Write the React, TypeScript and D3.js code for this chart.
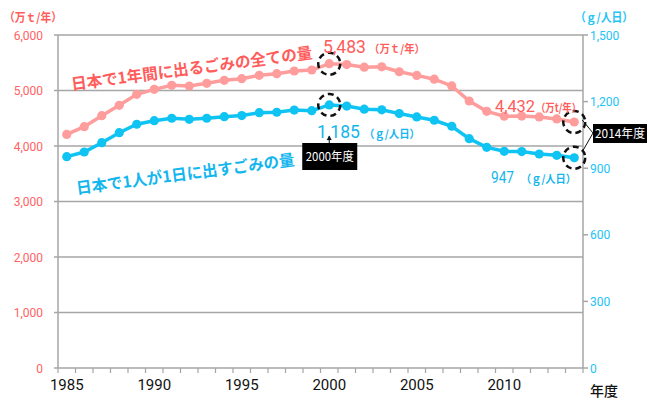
import React from "react";
import * as d3 from "d3";

const years: number[] = d3.range(1985, 2015);
const totalWaste: number[] = [
  4209, 4348, 4546, 4733, 4931, 5021, 5093, 5081, 5129, 5183,
  5213, 5273, 5303, 5351, 5369, 5483, 5468, 5420, 5427, 5338,
  5272, 5204, 5082, 4811, 4625, 4536, 4539, 4523, 4487, 4432,
];
const perPerson: number[] = [
  952, 973, 1015, 1060, 1098, 1114, 1125, 1120, 1125, 1132,
  1137, 1150, 1152, 1162, 1159, 1185, 1180, 1166, 1163, 1146,
  1131, 1116, 1089, 1033, 994, 976, 975, 964, 958, 947,
];
const leftTicks: number[] = [0, 1000, 2000, 3000, 4000, 5000, 6000];
const rightTicks: number[] = [0, 300, 600, 900, 1200, 1500];
const xLabelYears: number[] = [1985, 1990, 1995, 2000, 2005, 2010];
const highlightYears: number[] = [2000, 2014];

const PINK_LINE = "#ff9c9c";
const PINK_TEXT = "#ff5c5c";
const BLUE_LINE = "#0fc3f3";
const BLUE_TEXT = "#14b6ee";
const GRID = "#a6a6a6";
const JP = "'Noto Sans CJK JP', 'Noto Sans', sans-serif";
const NUM = "'Liberation Sans Narrow', 'Roboto', 'Noto Sans', sans-serif";

export default function App() {
  const W = 650, H = 404;
  const left = 58, right = 583, top = 35, bottom = 368;
  const x = d3.scaleBand<number>().domain(years).range([left, right]).padding(0);
  const cx = (yr: number) => (x(yr) as number) + x.bandwidth() / 2;
  const yL = d3.scaleLinear().domain([0, 6000]).range([bottom, top]);
  const yR = d3.scaleLinear().domain([0, 1500]).range([bottom, top]);

  const pinkPath = d3.line<number>().x((_, i) => cx(years[i])).y((d) => yL(d))(totalWaste) || "";
  const bluePath = d3.line<number>().x((_, i) => cx(years[i])).y((d) => yR(d))(perPerson) || "";

  const fmt = d3.format(",");
  const iA = years.indexOf(highlightYears[0]);
  const iB = years.indexOf(highlightYears[1]);
  const pA = { x: cx(years[iA]), y: yL(totalWaste[iA]) };
  const bA = { x: cx(years[iA]), y: yR(perPerson[iA]) };
  const pB = { x: cx(years[iB]), y: yL(totalWaste[iB]) };
  const bB = { x: cx(years[iB]), y: yR(perPerson[iB]) };

  const boundaries = d3.range(years.length + 1).map((i) => left + i * x.bandwidth());

  return (
    <svg width={W} height={H} style={{ position: "absolute", left: 0, top: 0, background: "#fff" }}>
      {/* gridlines */}
      {leftTicks.map((t) => (
        <line key={"g" + t} x1={left - 4} x2={right} y1={yL(t)} y2={yL(t)} stroke={GRID} strokeWidth={1.5} />
      ))}
      {/* axes */}
      <line x1={left} x2={left} y1={top} y2={bottom} stroke={GRID} strokeWidth={1.5} />
      <line x1={right} x2={right} y1={top} y2={bottom} stroke={GRID} strokeWidth={1.5} />
      {rightTicks.map((t) => (
        <line key={"rt" + t} x1={right} x2={right + 5} y1={yR(t)} y2={yR(t)} stroke={GRID} strokeWidth={1.5} />
      ))}
      {boundaries.map((b, i) => (
        <line key={"xt" + i} x1={b} x2={b} y1={bottom} y2={bottom + 5} stroke={GRID} strokeWidth={1.2} />
      ))}

      {/* left tick labels */}
      {leftTicks.map((t) => (
        <text key={"lt" + t} x={43} y={yL(t) + 4.5} textAnchor="end" fontFamily={NUM} fontSize={12}
          fill="#ff6262">{fmt(t)}</text>
      ))}
      {/* right tick labels */}
      {rightTicks.map((t) => (
        <text key={"rl" + t} x={590} y={yR(t) + 4.5} textAnchor="start" fontFamily={NUM} fontSize={12}
          fill="#22c3f5">{fmt(t)}</text>
      ))}
      {/* x labels */}
      {xLabelYears.map((yr) => (
        <text key={"xl" + yr} x={cx(yr)} y={390} textAnchor="middle" fontFamily={NUM} fontSize={15}
          fill="#111">{yr}</text>
      ))}
      <text x={590} y={396} fontFamily={JP} fontSize={14} fontWeight={500} fill="#111">年度</text>

      {/* axis unit labels */}
      <text x={4} y={22} fontFamily={JP} fontSize={12} fontWeight={700} fill={PINK_TEXT}
        textLength={58} lengthAdjust="spacingAndGlyphs">（万ｔ/年）</text>
      <text x={575} y={22} fontFamily={JP} fontSize={12} fontWeight={700} fill="#22c3f5"
        textLength={58} lengthAdjust="spacingAndGlyphs">（ｇ/人日）</text>

      {/* series lines */}
      <path d={pinkPath} fill="none" stroke={PINK_LINE} strokeWidth={3.5} />
      {totalWaste.map((v, i) => (
        <circle key={"pc" + i} cx={cx(years[i])} cy={yL(v)} r={4.6} fill={PINK_LINE} />
      ))}
      <path d={bluePath} fill="none" stroke={BLUE_LINE} strokeWidth={3.5} />
      {perPerson.map((v, i) => (
        <circle key={"bc" + i} cx={cx(years[i])} cy={yR(v)} r={4.6} fill={BLUE_LINE} />
      ))}

      {/* series titles */}
      <text transform="translate(72,90) rotate(-7.5)" fontFamily={JP} fontSize={16} fontWeight={700}
        fill={PINK_TEXT} textLength={243} lengthAdjust="spacingAndGlyphs">日本で1年間に出るごみの全ての量</text>
      <text transform="translate(77,194) rotate(-7.5)" fontFamily={JP} fontSize={16} fontWeight={700}
        fill={BLUE_TEXT} textLength={220} lengthAdjust="spacingAndGlyphs">日本で1人が1日に出すごみの量</text>

      {/* dashed circles */}
      {[pA, bA, pB, bB].map((p, i) => (
        <circle key={"dc" + i} cx={p.x} cy={p.y} r={11} fill="none" stroke="#111" strokeWidth={2.5}
          strokeDasharray="6 4" />
      ))}

      {/* value annotations */}
      <text x={323} y={53} fontFamily={NUM} fontSize={18} fill={PINK_TEXT} textLength={43}
        lengthAdjust="spacingAndGlyphs">{fmt(totalWaste[iA])}</text>
      <text x={369} y={53} fontFamily={JP} fontSize={11} fontWeight={700} fill={PINK_TEXT} textLength={56}
        lengthAdjust="spacingAndGlyphs">（万ｔ/年）</text>

      <text x={317} y={138} fontFamily={NUM} fontSize={18} fill={BLUE_TEXT} textLength={43}
        lengthAdjust="spacingAndGlyphs">{fmt(perPerson[iA])}</text>
      <text x={364} y={138} fontFamily={JP} fontSize={11} fontWeight={700} fill={BLUE_TEXT} textLength={56}
        lengthAdjust="spacingAndGlyphs">（ｇ/人日）</text>

      <text x={495} y={112} fontFamily={NUM} fontSize={17} fill={PINK_TEXT} textLength={40}
        lengthAdjust="spacingAndGlyphs">{fmt(totalWaste[iB])}</text>
      <text x={536} y={112} fontFamily={JP} fontSize={11} fontWeight={700} fill={PINK_TEXT} textLength={45}
        lengthAdjust="spacingAndGlyphs">（万t/年）</text>

      <text x={491} y={183} fontFamily={NUM} fontSize={16} fill={BLUE_TEXT} textLength={23}
        lengthAdjust="spacingAndGlyphs">{fmt(perPerson[iB])}</text>
      <text x={521} y={183} fontFamily={JP} fontSize={11} fontWeight={700} fill={BLUE_TEXT} textLength={55}
        lengthAdjust="spacingAndGlyphs">（ｇ/人日）</text>

      {/* 2000 callout */}
      <line x1={bA.x} x2={bA.x} y1={143} y2={139} stroke="#111" strokeWidth={1} />
      <path d={`M${bA.x - 2.5},${140} L${bA.x},${135.5} L${bA.x + 2.5},${140} Z`} fill="#111" />
      <rect x={bA.x - 27} y={143} width={55} height={27} fill="#000" />
      <text x={bA.x + 0.5} y={161} textAnchor="middle" fontFamily={JP} fontSize={12} fill="#fff"
        textLength={48} lengthAdjust="spacingAndGlyphs">2000年度</text>

      {/* 2014 callout */}
      <line x1={593} y1={133} x2={pB.x + 8} y2={pB.y - 2} stroke="#111" strokeWidth={1} />
      <line x1={593} y1={133} x2={bB.x + 8} y2={bB.y - 6} stroke="#111" strokeWidth={1} />
      <rect x={593} y={124} width={54} height={19} fill="#000" />
      <text x={620} y={138} textAnchor="middle" fontFamily={JP} fontSize={12} fill="#fff"
        textLength={50} lengthAdjust="spacingAndGlyphs">2014年度</text>
    </svg>
  );
}
